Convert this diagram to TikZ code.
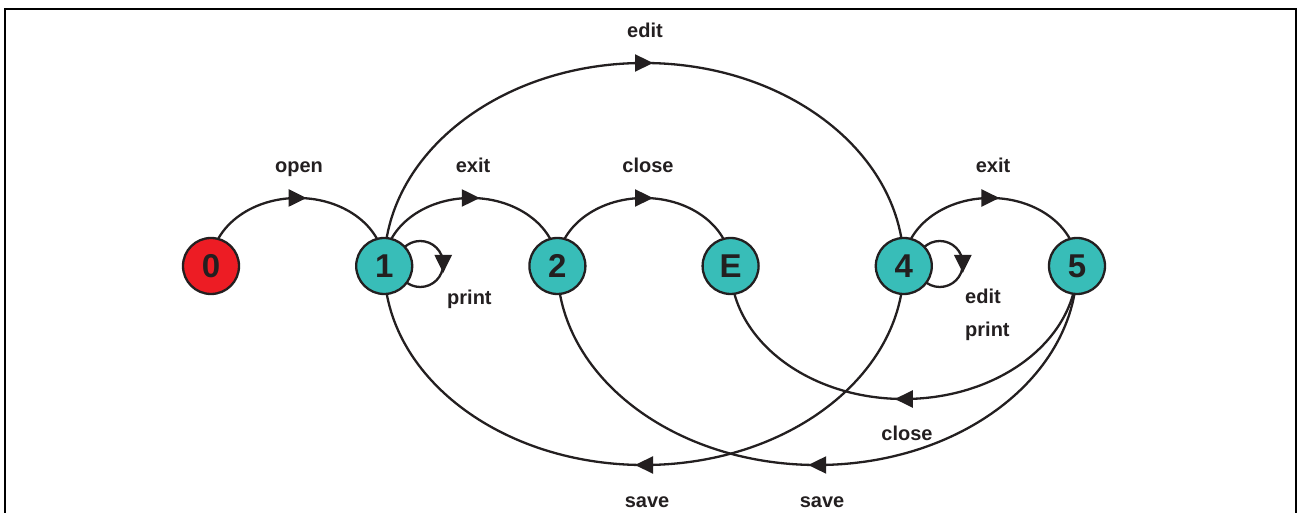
\documentclass[tikz,border=0pt]{standalone}
\usepackage{fontspec}
\setmainfont{Liberation Sans}
\usetikzlibrary{arrows.meta,decorations.markings,backgrounds,calc}
\definecolor{ink}{HTML}{231F20}
\definecolor{stateteal}{HTML}{38BDB8}
\definecolor{statered}{HTML}{ED1C24}
\tikzset{
  state/.style={circle, draw=ink, line width=2.3pt, minimum size=56pt, inner sep=0pt,
    fill=stateteal, font=\fontsize{33}{36}\selectfont\bfseries, text=ink},
  lbl/.style={font=\fontsize{20}{24}\selectfont\bfseries, text=ink, inner sep=0pt, anchor=base},
  lblw/.style={lbl, anchor=base west},
  edge/.style={draw=ink, line width=2.3pt, postaction={decorate},
    decoration={markings, mark=at position 0.5 with {\arrow[xshift=9pt]{Triangle[length=18pt,width=17pt]}}}},
  frame/.style={draw=black, line width=2pt, line join=miter}
}
\begin{document}
\begin{tikzpicture}[x=1pt,y=1pt]
\useasboundingbox (0,0) rectangle (1298,513);
\draw[frame] (5,-3) -- (5,504) -- (1296,504) -- (1296,-3);

% states
\node[state, fill=statered] (n0) at (211,247) {0};
\node[state] (n1) at (384.2,247) {1};
\node[state] (n2) at (557.4,247) {2};
\node[state] (nE) at (730.6,247) {E};
\node[state] (n4) at (903.8,247) {4};
\node[state] (n5) at (1077,247) {5};

\begin{scope}[on background layer]
  % upper short arcs
  \draw[edge] (n0.center) arc[start angle=180, end angle=0, x radius=86.6, y radius=68];
  \draw[edge] (n1.center) arc[start angle=180, end angle=0, x radius=86.6, y radius=68];
  \draw[edge] (n2.center) arc[start angle=180, end angle=0, x radius=86.6, y radius=68];
  \draw[edge] (n4.center) arc[start angle=180, end angle=0, x radius=86.6, y radius=68];
  % big edit arc 1 -> 4
  \draw[edge] (n1.center) arc[start angle=180, end angle=0, x radius=259.8, y radius=203];
  % lower arcs
  \draw[edge] (n4.center) arc[start angle=0, end angle=-180, x radius=259.8, y radius=199];
  \draw[edge] (n5.center) arc[start angle=0, end angle=-180, x radius=259.8, y radius=199];
  \draw[edge] (n5.center) arc[start angle=0, end angle=-180, x radius=173.2, y radius=133];
  % self loops
  \draw[edge] ($(n1.center)+(13,2)$) arc[start angle=180, end angle=-180, radius=23];
  \draw[edge] ($(n4.center)+(13,2)$) arc[start angle=180, end angle=-180, radius=23];
\end{scope}

% labels
\node[lbl] (lopen) at (299,340) {open};
\node[lbl] (lexit1) at (473,340) {exit};
\node[lbl] (lclose1) at (648,340) {close};
\node[lbl] (lexit2) at (993,340) {exit};
\node[lbl] (ledit1) at (645,475) {edit};
\node[lblw] (lprint1) at (447,208) {print};
\node[lblw] (ledit2) at (965,209) {edit};
\node[lblw] (lprint2) at (965,176) {print};
\node[lbl] (lclose2) at (907,72) {close};
\node[lbl] (lsave1) at (647,5) {save};
\node[lbl] (lsave2) at (822,5) {save};
\end{tikzpicture}
\end{document}
